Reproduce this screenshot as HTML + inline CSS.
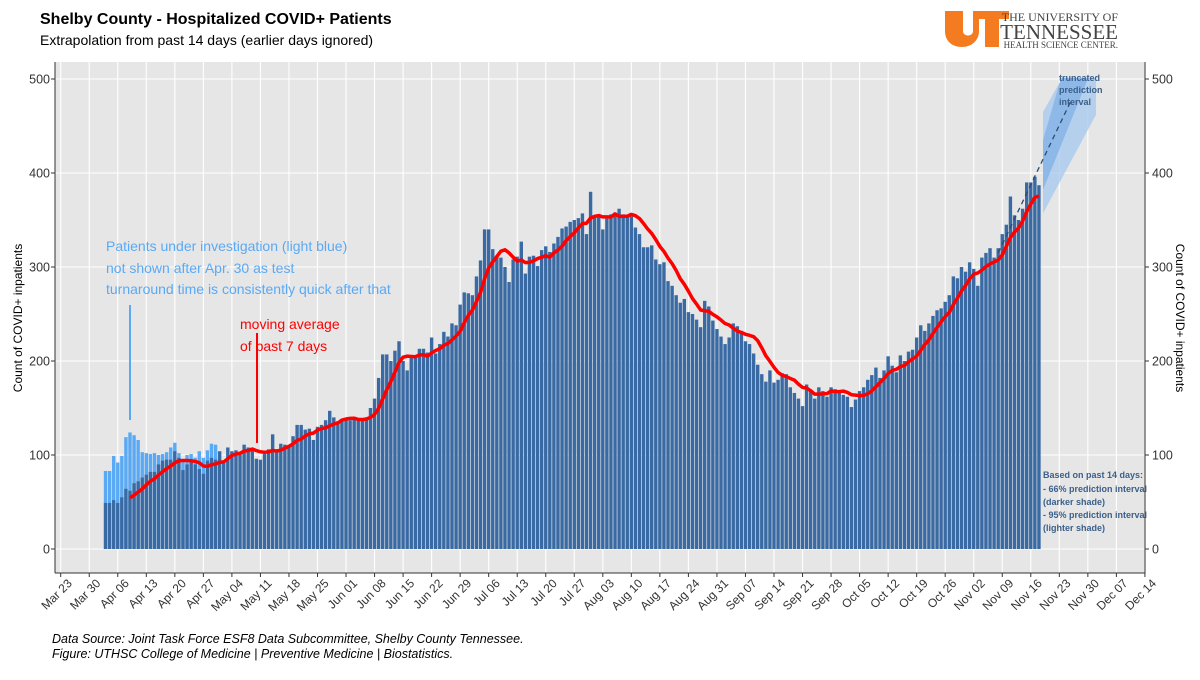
<!DOCTYPE html>
<html><head><meta charset="utf-8"><style>
body{margin:0;background:#fff;}
svg text{font-family:"Liberation Sans",sans-serif;}
svg text.serif{font-family:"Liberation Serif",serif;}
</style></head><body>
<svg id="c" width="1200" height="675" viewBox="0 0 1200 675" xmlns="http://www.w3.org/2000/svg">
<text x="40" y="24" font-size="16" font-weight="bold" fill="#000">Shelby County - Hospitalized COVID+ Patients</text>
<text x="40" y="45" font-size="14" fill="#000">Extrapolation from past 14 days (earlier days ignored)</text>
<g>
<path d="M945 11h18v20c0 6 10 6 10 0v-20h36v8h-10v28h-14v-28h-6v12c0 10-8 16-17 16c-10 0-17-6-17-16z" fill="#f47b20"/>
<text class="serif" x="1118" y="21" font-size="12" text-anchor="end" fill="#444">THE UNIVERSITY OF</text>
<text class="serif" x="1118" y="39" font-size="21" text-anchor="end" fill="#444">TENNESSEE</text>
<text class="serif" x="1118" y="48" font-size="9" text-anchor="end" fill="#444">HEALTH SCIENCE CENTER.</text>
</g>
<rect x="55" y="62" width="1090" height="511" fill="#e6e6e6"/>
<g id="grid"></g>
<g id="bars"></g>
<g id="pred"></g>
<g id="line"></g>
<g id="axes"></g>
<text transform="translate(22,318) rotate(-90)" font-size="12" text-anchor="middle">Count of COVID+ inpatients</text>
<text transform="translate(1176,318) rotate(90)" font-size="12" text-anchor="middle">Count of COVID+ inpatients</text>
<g font-size="14" fill="#5aa9f5">
<text x="106" y="251">Patients under investigation (light blue)</text>
<text x="106" y="273">not shown after Apr. 30 as test</text>
<text x="106" y="294">turnaround time is consistently quick after that</text>
<line x1="130" y1="305" x2="130" y2="420" stroke="#5aa9f5" stroke-width="2"/>
</g>
<g font-size="14" fill="#ff0000">
<text x="240" y="329">moving average</text>
<text x="240" y="351">of past 7 days</text>
<line x1="257" y1="333" x2="257" y2="443" stroke="#ff0000" stroke-width="2"/>
</g>
<g font-size="9" font-weight="bold" fill="#3b5f8a">
<text x="1059" y="81">truncated</text><text x="1059" y="93">prediction</text><text x="1059" y="105">interval</text>
</g>
<g font-size="9" font-weight="bold" fill="#3b5f8a">
<text x="1043" y="478">Based on past 14 days:</text>
<text x="1043" y="492">- 66% prediction interval</text>
<text x="1043" y="505">(darker shade)</text>
<text x="1043" y="518">- 95% prediction interval</text>
<text x="1043" y="531">(lighter shade)</text>
</g>
<g font-size="12.5" font-style="italic" fill="#000">
<text x="52" y="643">Data Source: Joint Task Force ESF8 Data Subcommittee, Shelby County Tennessee.</text>
<text x="52" y="658">Figure: UTHSC College of Medicine | Preventive Medicine | Biostatistics.</text>
</g>
</svg>
<script>
const startDay = 11; // Apr 03 (days since Mar 23)
const confirmed = [49,49,52,49,55,64,62,70,72,76,79,82,82,90,94,95,95,104,97,84,90,92,90,85,80,94,97,95,
104,94,108,104,105,103,111,108,106,96,95,101,106,122,104,112,111,108,120,132,132,127,128,116,130,132,137,147,140,136,138,
138,137,138,138,139,140,150,160,182,207,207,200,211,221,200,190,205,205,213,213,209,225,208,218,231,226,240,238,260,273,
272,270,290,307,340,340,319,312,310,300,284,308,311,327,293,311,312,301,318,322,316,325,332,341,343,348,350,352,357,335,380,355,354,340,352,
356,358,362,356,354,354,342,335,321,321,323,308,303,305,285,280,270,262,266,252,250,244,236,264,258,243,234,226,218,225,240,
237,232,221,218,208,196,186,178,190,177,180,187,186,172,166,160,152,175,168,160,172,168,162,172,170,168,164,162,151,
159,168,172,180,185,193,182,190,205,195,188,206,200,210,212,225,238,232,240,248,254,256,263,270,290,288,300,295,305,298,
280,310,315,320,310,320,335,345,375,355,350,362,390,390,396,387];
const totalWithPUI = [83,83,99,92,99,119,124,121,116,103,102,101,102,100,101,103,108,113,102,94,100,101,97,104,97,105,112,111];
const yTicks = [0,100,200,300,400,500];
const xTickLabels = ["Mar 23","Mar 30","Apr 06","Apr 13","Apr 20","Apr 27","May 04","May 11","May 18","May 25","Jun 01","Jun 08","Jun 15","Jun 22","Jun 29","Jul 06","Jul 13","Jul 20","Jul 27","Aug 03","Aug 10","Aug 17","Aug 24","Aug 31","Sep 07","Sep 14","Sep 21","Sep 28","Oct 05","Oct 12","Oct 19","Oct 26","Nov 02","Nov 09","Nov 16","Nov 23","Nov 30","Dec 07","Dec 14"];
const trendStart = [230, 315];   // [day index, value]
const trendEnd = [248, 478];
const pi95 = [[241,357,465],[254,462,565]]; // [day, low, high]
const pi66 = [[241,382,435],[252,500,600]];

const NS="http://www.w3.org/2000/svg";
const X=d=>60.7+d*4.076;
const Y=v=>549-v*0.94;
function mk(tag,attrs,parent){const e=document.createElementNS(NS,tag);for(const k in attrs)e.setAttribute(k,attrs[k]);parent.appendChild(e);return e;}
const grid=document.getElementById('grid'),bars=document.getElementById('bars'),axes=document.getElementById('axes'),pred=document.getElementById('pred'),line=document.getElementById('line');
yTicks.forEach(v=>{
 const g=mk('line',{x1:55,x2:1145,y1:Y(v),y2:Y(v),stroke:'#fff','stroke-width':1.1},grid);
 
 
 const t=mk('text',{x:50,y:Y(v)+4.5,'font-size':12.5,'text-anchor':'end',fill:'#333'},axes);t.textContent=v;
 
 
 mk('line',{x1:51,x2:55,y1:Y(v),y2:Y(v),stroke:'#333'},axes);
 const t2=mk('text',{x:1152,y:Y(v)+4.5,'font-size':12.5,fill:'#333'},axes);t2.textContent=v;
 
 
 mk('line',{x1:1145,x2:1149,y1:Y(v),y2:Y(v),stroke:'#333'},axes);
});
xTickLabels.forEach((s,i)=>{
 const x=X(i*7);
 const g=mk('line',{x1:x,x2:x,y1:62,y2:573,stroke:'#fff','stroke-width':1.1},grid);
 
 
 mk('line',{x1:x,x2:x,y1:573,y2:577,stroke:'#333'},axes);
 const t=mk('text',{transform:`translate(${x+12},${584}) rotate(-45)`,'font-size':12,'text-anchor':'end',fill:'#333'},axes);t.textContent=s;
 
 
});
mk('line',{x1:55,x2:55,y1:62,y2:573,stroke:'#333'},axes);
mk('line',{x1:55,x2:1145,y1:573,y2:573,stroke:'#333'},axes);
mk('line',{x1:1145,x2:1145,y1:62,y2:573,stroke:'#333'},axes);
totalWithPUI.forEach((v,i)=>{
 const r=mk('rect',{x:X(startDay+i)-1.7,y:Y(v),width:3.4,height:Y(0)-Y(v),fill:'#5aa9f5'},bars);
 
 
});
confirmed.forEach((v,i)=>{
 const r=mk('rect',{x:X(startDay+i)-1.7,y:Y(v),width:3.4,height:Y(0)-Y(v),fill:'#3a6aa3'},bars);
 
 
});
// prediction bands
const poly=(arr)=>{const top=arr.map(p=>[X(p[0]),Y(p[2])]);const bot=arr.map(p=>[X(p[0]),Y(p[1])]).reverse();return top.concat(bot);};
const clipPts=(pts)=>{
 const out=[];const lim=78;
 for(let i=0;i<pts.length;i++){const a=pts[i],b=pts[(i+1)%pts.length];
  const ain=a[1]>=lim,bin=b[1]>=lim;
  if(ain)out.push(a);
  if(ain!==bin){const t=(lim-a[1])/(b[1]-a[1]);out.push([a[0]+t*(b[0]-a[0]),lim]);}
 }
 return out.map(p=>p.join(',')).join(' ');
};
const p95=mk('polygon',{points:clipPts(poly(pi95)),fill:'#a9cbef','fill-opacity':0.8},pred);


const p66=mk('polygon',{points:clipPts(poly(pi66)),fill:'#7eaee4','fill-opacity':0.7},pred);


const tr=mk('line',{x1:X(trendStart[0]),y1:Y(trendStart[1]),x2:X(trendEnd[0]),y2:Y(trendEnd[1]),stroke:'#2c4a70','stroke-width':1.3,'stroke-dasharray':'5,4'},pred);


// moving average
const pts=[];
for(let i=6;i<confirmed.length;i++){let s=0;for(let k=i-6;k<=i;k++)s+=confirmed[k];pts.push([X(startDay+i),Y(s/7)]);}
const ma=mk('polyline',{points:pts.map(p=>p.join(',')).join(' '),fill:'none',stroke:'#ff0000','stroke-width':3.5,'stroke-linejoin':'round'},line);


</script>
</body></html>
